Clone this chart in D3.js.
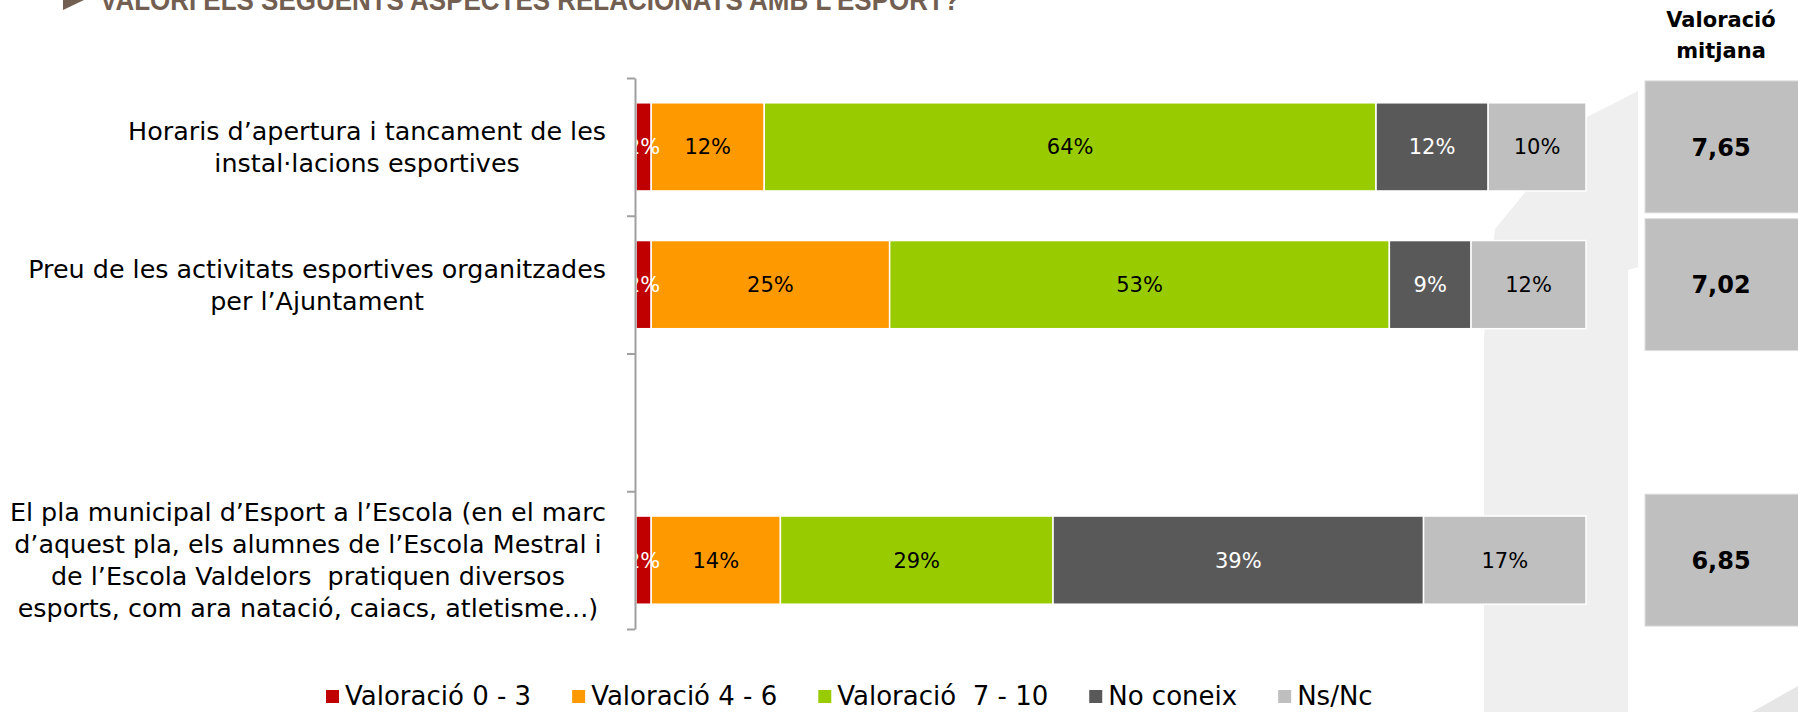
<!DOCTYPE html>
<html>
<head>
<meta charset="utf-8">
<script src="https://cdn.jsdelivr.net/npm/d3@7"></script>
<style>
  body { margin: 0; background: #fff; }
  svg { display: block; }
  text { font-family: 'DejaVu Sans', sans-serif; white-space: pre; }
</style>
</head>
<body>
<svg id="chart" width="1798" height="712"></svg>
<script>
// ---- data ----
const title = 'VALORI ELS SEGÜENTS ASPECTES RELACIONATS AMB L’ESPORT?';

// one entry per row of the chart; the empty one is the blank row of the original
const categories = [
	'Horaris d’apertura i tancament de les\ninstal·lacions esportives',
	'Preu de les activitats esportives organitzades\nper l’Ajuntament',
	'',
	'El pla municipal d’Esport a l’Escola (en el marc\nd’aquest pla, els alumnes de l’Escola Mestral i\nde l’Escola Valdelors  pratiquen diversos\nesports, com ara natació, caiacs, atletisme...)'
];

const seriesNames = ['Valoració 0 - 3', 'Valoració 4 - 6', 'Valoració  7 - 10', 'No coneix', 'Ns/Nc'];

// shares in %, per category
const val0a3 = [1.6, 1.6, null, 1.6];
const val4a6 = [11.9, 25.1, null, 13.6];
const val7a10 = [64.4, 52.6, null, 28.7];
const noConeix = [11.8, 8.6, null, 39.0];
const nsNc = [10.3, 12.1, null, 17.1];

const mitjanaTitle = ['Valoració', 'mitjana'];
const mitjana = [7.65, 7.02, null, 6.85];

// ---- styles ----
const colors = ['#C00000', '#FF9900', '#99CC00', '#595959', '#BFBFBF'];
const labelColors = ['#ffffff', '#000000', '#000000', '#ffffff', '#000000'];

const svg = d3.select('#chart');
const W = 1798, H = 712;

const seriesValues = [val0a3, val4a6, val7a10, noConeix, nsNc];
const rows = categories.map((c, i) => ({
	idx: i,
	label: c,
	v: seriesValues.map(s => s[i])
}));
const dataRows = rows.filter(r => r.v[0] !== null);

// Scales
const y = d3.scaleBand()
	.domain(d3.range(categories.length))
	.range([78, 629])
	.paddingInner(0.36)
	.paddingOuter(0.18);
const x = d3.scaleLinear().domain([0, 100]).range([636, 1586]);

// background decoration of the slide template
svg.append('path')
	.attr('d', 'M1587,117 L1638,91 L1638,267 L1628,270 L1628,712 L1484,712 L1484,336 L1495,229 Z')
	.attr('fill', '#efefef');
svg.append('path')
	.attr('d', 'M1798,686 L1798,712 L1752,712 Z')
	.attr('fill', '#e6e6e6');

// title (cut by the top of the picture), squeezed like a narrow font
svg.append('path')
	.attr('d', 'M63,-10 L84,0 L63,10 Z')
	.attr('fill', '#735f52');
const titleText = svg.append('text')
	.attr('x', 0)
	.attr('y', 0)
	.style('font-family', "'Liberation Sans', sans-serif")
	.style('font-weight', 'bold')
	.style('font-size', '30px')
	.attr('fill', '#735f52')
	.text(title);
const titleW = titleText.node().getComputedTextLength();
titleText.attr('transform', `translate(100,9.5) scale(${860 / titleW},1)`);

// Stack
const stack = d3.stack()
	.keys(d3.range(seriesNames.length))
	.value((d, k) => d.v[k]);
const stacked = stack(dataRows);

const plot = svg.append('g');

const layers = plot.selectAll('g.layer')
	.data(stacked)
	.enter()
	.append('g')
	.attr('class', 'layer')
	.attr('fill', (d, i) => colors[i]);

layers.selectAll('rect')
	.data(d => d)
	.enter()
	.append('rect')
	.attr('x', d => x(d[0]))
	.attr('y', d => y(d.data.idx))
	.attr('width', d => x(d[1]) - x(d[0]))
	.attr('height', y.bandwidth())
	.attr('stroke', '#ffffff')
	.attr('stroke-width', 1.5);

// value labels
stacked.forEach((layer, k) => {
	plot.selectAll('text.val' + k)
		.data(layer)
		.enter()
		.append('text')
		.attr('class', 'val' + k)
		.attr('x', d => (x(d[0]) + x(d[1])) / 2)
		.attr('y', d => y(d.data.idx) + y.bandwidth() / 2)
		.attr('dy', '0.36em')
		.attr('text-anchor', 'middle')
		.style('font-size', '21px')
		.attr('fill', labelColors[k])
		.text(d => Math.round(d[1] - d[0]) + '%');
});

// category axis: line and ticks at the band limits
const y0 = y.range()[0];
const axisScale = d3.scaleLinear()
	.domain([0, categories.length])
	.range([y0, y0 + categories.length * y.step()]);
const axis = d3.axisLeft(axisScale)
	.tickValues(d3.range(categories.length + 1))
	.tickSize(8)
	.tickSizeOuter(0)
	.tickFormat('');
const axisG = svg.append('g')
	.attr('transform', 'translate(635,0)')
	.call(axis);
axisG.selectAll('path, line')
	.attr('stroke', '#a0a0a0')
	.attr('stroke-width', 2);

// category labels: block right aligned, lines centred inside it
const labelRight = 606;
const lineH = 32;
rows.filter(r => r.label !== '').forEach(r => {
	const lines = r.label.split('\n');
	const g = svg.append('g');
	const texts = g.selectAll('text')
		.data(lines)
		.enter()
		.append('text')
		.style('font-size', '25.4px')
		.attr('fill', '#000')
		.attr('text-anchor', 'middle')
		.attr('dy', '0.36em')
		.text(d => d);
	const maxW = d3.max(texts.nodes(), n => n.getComputedTextLength());
	const cy = y(r.idx) + y.bandwidth() / 2;
	texts
		.attr('x', labelRight - maxW / 2)
		.attr('y', (d, i) => cy + (i - (lines.length - 1) / 2) * lineH);
});

// "Valoració mitjana" column
const boxX = 1645, boxCx = 1721;
svg.selectAll('text.mtitle')
	.data(mitjanaTitle)
	.enter()
	.append('text')
	.attr('class', 'mtitle')
	.attr('x', boxCx)
	.attr('y', (d, i) => 27 + i * 31)
	.attr('text-anchor', 'middle')
	.style('font-size', '21px')
	.style('font-weight', 'bold')
	.text(d => d);

const boxes = svg.selectAll('g.box')
	.data(rows.filter(r => mitjana[r.idx] !== null))
	.enter()
	.append('g')
	.attr('class', 'box');
boxes.append('rect')
	.attr('x', boxX)
	.attr('y', d => y(d.idx) + y.bandwidth() / 2 - 66)
	.attr('width', W - boxX + 2)
	.attr('height', 132)
	.attr('fill', '#BFBFBF')
	.attr('stroke', '#dedede')
	.attr('stroke-width', 1);
boxes.append('text')
	.attr('x', boxCx)
	.attr('y', d => y(d.idx) + y.bandwidth() / 2)
	.attr('dy', '0.36em')
	.attr('text-anchor', 'middle')
	.style('font-size', '24px')
	.style('font-weight', 'bold')
	.text(d => d3.format('.2f')(mitjana[d.idx]).replace('.', ','));

// legend
const legend = svg.append('g');
let lx = 326;
seriesNames.forEach((name, i) => {
	legend.append('rect')
		.attr('x', lx)
		.attr('y', 690)
		.attr('width', 13)
		.attr('height', 13)
		.attr('fill', colors[i]);
	const t = legend.append('text')
		.attr('x', lx + 19)
		.attr('y', 696)
		.attr('dy', '0.36em')
		.style('font-size', '26px')
		.text(name);
	lx += 19 + t.node().getComputedTextLength() + 41;
});
</script>
</body>
</html>
